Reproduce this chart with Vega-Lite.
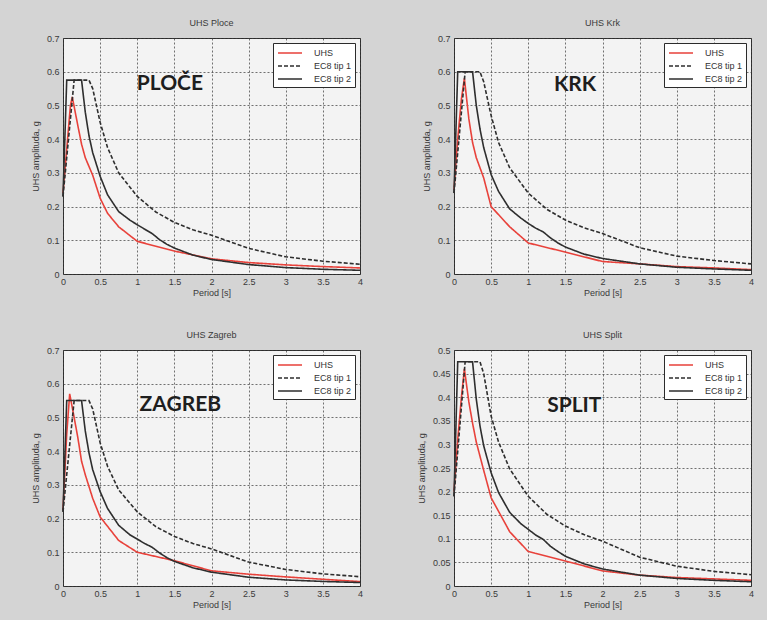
{
  "$schema": "https://vega.github.io/schema/vega-lite/v6.json",
  "background": "#d4d4d4",
  "padding": {"left": 30, "top": 18, "right": 14, "bottom": 18},
  "bounds": "flush",
  "spacing": {"row": 76, "column": 94},
  "columns": 2,
  "datasets": {
    "curves": [
      {"station":"Ploce","series":"UHS","T":0,"g":0.24},{"station":"Ploce","series":"UHS","T":0.05,"g":0.37},{"station":"Ploce","series":"UHS","T":0.1,"g":0.5},{"station":"Ploce","series":"UHS","T":0.125,"g":0.525},{"station":"Ploce","series":"UHS","T":0.2,"g":0.44},{"station":"Ploce","series":"UHS","T":0.25,"g":0.385},{"station":"Ploce","series":"UHS","T":0.3,"g":0.345},{"station":"Ploce","series":"UHS","T":0.4,"g":0.293},{"station":"Ploce","series":"UHS","T":0.5,"g":0.225},{"station":"Ploce","series":"UHS","T":0.6,"g":0.18},{"station":"Ploce","series":"UHS","T":0.75,"g":0.14},{"station":"Ploce","series":"UHS","T":1,"g":0.097},{"station":"Ploce","series":"UHS","T":1.5,"g":0.068},{"station":"Ploce","series":"UHS","T":2,"g":0.045},{"station":"Ploce","series":"UHS","T":2.5,"g":0.034},{"station":"Ploce","series":"UHS","T":3,"g":0.027},{"station":"Ploce","series":"UHS","T":3.5,"g":0.022},{"station":"Ploce","series":"UHS","T":4,"g":0.018},
      {"station":"Ploce","series":"EC8 tip 1","T":0,"g":0.23},{"station":"Ploce","series":"EC8 tip 1","T":0.15,"g":0.575},{"station":"Ploce","series":"EC8 tip 1","T":0.35,"g":0.575},{"station":"Ploce","series":"EC8 tip 1","T":0.4,"g":0.55},{"station":"Ploce","series":"EC8 tip 1","T":0.45,"g":0.5},{"station":"Ploce","series":"EC8 tip 1","T":0.5,"g":0.45},{"station":"Ploce","series":"EC8 tip 1","T":0.6,"g":0.375},{"station":"Ploce","series":"EC8 tip 1","T":0.75,"g":0.3},{"station":"Ploce","series":"EC8 tip 1","T":1,"g":0.23},{"station":"Ploce","series":"EC8 tip 1","T":1.25,"g":0.184},{"station":"Ploce","series":"EC8 tip 1","T":1.5,"g":0.153},{"station":"Ploce","series":"EC8 tip 1","T":1.75,"g":0.131},{"station":"Ploce","series":"EC8 tip 1","T":2,"g":0.115},{"station":"Ploce","series":"EC8 tip 1","T":2.5,"g":0.076},{"station":"Ploce","series":"EC8 tip 1","T":3,"g":0.051},{"station":"Ploce","series":"EC8 tip 1","T":3.5,"g":0.038},{"station":"Ploce","series":"EC8 tip 1","T":4,"g":0.029},
      {"station":"Ploce","series":"EC8 tip 2","T":0,"g":0.23},{"station":"Ploce","series":"EC8 tip 2","T":0.05,"g":0.575},{"station":"Ploce","series":"EC8 tip 2","T":0.25,"g":0.575},{"station":"Ploce","series":"EC8 tip 2","T":0.3,"g":0.48},{"station":"Ploce","series":"EC8 tip 2","T":0.35,"g":0.41},{"station":"Ploce","series":"EC8 tip 2","T":0.4,"g":0.36},{"station":"Ploce","series":"EC8 tip 2","T":0.5,"g":0.29},{"station":"Ploce","series":"EC8 tip 2","T":0.6,"g":0.235},{"station":"Ploce","series":"EC8 tip 2","T":0.75,"g":0.185},{"station":"Ploce","series":"EC8 tip 2","T":0.9,"g":0.16},{"station":"Ploce","series":"EC8 tip 2","T":1,"g":0.146},{"station":"Ploce","series":"EC8 tip 2","T":1.1,"g":0.133},{"station":"Ploce","series":"EC8 tip 2","T":1.2,"g":0.12},{"station":"Ploce","series":"EC8 tip 2","T":1.3,"g":0.102},{"station":"Ploce","series":"EC8 tip 2","T":1.4,"g":0.088},{"station":"Ploce","series":"EC8 tip 2","T":1.5,"g":0.077},{"station":"Ploce","series":"EC8 tip 2","T":1.75,"g":0.056},{"station":"Ploce","series":"EC8 tip 2","T":2,"g":0.043},{"station":"Ploce","series":"EC8 tip 2","T":2.5,"g":0.028},{"station":"Ploce","series":"EC8 tip 2","T":3,"g":0.019},{"station":"Ploce","series":"EC8 tip 2","T":3.5,"g":0.014},{"station":"Ploce","series":"EC8 tip 2","T":4,"g":0.011},

      {"station":"Krk","series":"UHS","T":0,"g":0.25},{"station":"Krk","series":"UHS","T":0.05,"g":0.4},{"station":"Krk","series":"UHS","T":0.1,"g":0.52},{"station":"Krk","series":"UHS","T":0.14,"g":0.58},{"station":"Krk","series":"UHS","T":0.2,"g":0.46},{"station":"Krk","series":"UHS","T":0.25,"g":0.39},{"station":"Krk","series":"UHS","T":0.3,"g":0.345},{"station":"Krk","series":"UHS","T":0.4,"g":0.285},{"station":"Krk","series":"UHS","T":0.5,"g":0.2},{"station":"Krk","series":"UHS","T":0.75,"g":0.14},{"station":"Krk","series":"UHS","T":1,"g":0.092},{"station":"Krk","series":"UHS","T":1.5,"g":0.065},{"station":"Krk","series":"UHS","T":2,"g":0.037},{"station":"Krk","series":"UHS","T":2.5,"g":0.03},{"station":"Krk","series":"UHS","T":3,"g":0.022},{"station":"Krk","series":"UHS","T":3.5,"g":0.018},{"station":"Krk","series":"UHS","T":4,"g":0.013},
      {"station":"Krk","series":"EC8 tip 1","T":0,"g":0.24},{"station":"Krk","series":"EC8 tip 1","T":0.15,"g":0.6},{"station":"Krk","series":"EC8 tip 1","T":0.35,"g":0.6},{"station":"Krk","series":"EC8 tip 1","T":0.4,"g":0.57},{"station":"Krk","series":"EC8 tip 1","T":0.45,"g":0.52},{"station":"Krk","series":"EC8 tip 1","T":0.5,"g":0.47},{"station":"Krk","series":"EC8 tip 1","T":0.6,"g":0.39},{"station":"Krk","series":"EC8 tip 1","T":0.75,"g":0.315},{"station":"Krk","series":"EC8 tip 1","T":1,"g":0.24},{"station":"Krk","series":"EC8 tip 1","T":1.25,"g":0.192},{"station":"Krk","series":"EC8 tip 1","T":1.5,"g":0.16},{"station":"Krk","series":"EC8 tip 1","T":1.75,"g":0.137},{"station":"Krk","series":"EC8 tip 1","T":2,"g":0.12},{"station":"Krk","series":"EC8 tip 1","T":2.5,"g":0.078},{"station":"Krk","series":"EC8 tip 1","T":3,"g":0.053},{"station":"Krk","series":"EC8 tip 1","T":3.5,"g":0.04},{"station":"Krk","series":"EC8 tip 1","T":4,"g":0.03},
      {"station":"Krk","series":"EC8 tip 2","T":0,"g":0.24},{"station":"Krk","series":"EC8 tip 2","T":0.05,"g":0.6},{"station":"Krk","series":"EC8 tip 2","T":0.25,"g":0.6},{"station":"Krk","series":"EC8 tip 2","T":0.3,"g":0.5},{"station":"Krk","series":"EC8 tip 2","T":0.35,"g":0.43},{"station":"Krk","series":"EC8 tip 2","T":0.4,"g":0.375},{"station":"Krk","series":"EC8 tip 2","T":0.5,"g":0.295},{"station":"Krk","series":"EC8 tip 2","T":0.6,"g":0.245},{"station":"Krk","series":"EC8 tip 2","T":0.75,"g":0.193},{"station":"Krk","series":"EC8 tip 2","T":0.9,"g":0.166},{"station":"Krk","series":"EC8 tip 2","T":1,"g":0.15},{"station":"Krk","series":"EC8 tip 2","T":1.1,"g":0.136},{"station":"Krk","series":"EC8 tip 2","T":1.2,"g":0.125},{"station":"Krk","series":"EC8 tip 2","T":1.3,"g":0.107},{"station":"Krk","series":"EC8 tip 2","T":1.4,"g":0.092},{"station":"Krk","series":"EC8 tip 2","T":1.5,"g":0.08},{"station":"Krk","series":"EC8 tip 2","T":1.75,"g":0.059},{"station":"Krk","series":"EC8 tip 2","T":2,"g":0.046},{"station":"Krk","series":"EC8 tip 2","T":2.5,"g":0.03},{"station":"Krk","series":"EC8 tip 2","T":3,"g":0.02},{"station":"Krk","series":"EC8 tip 2","T":3.5,"g":0.015},{"station":"Krk","series":"EC8 tip 2","T":4,"g":0.011},

      {"station":"Zagreb","series":"UHS","T":0,"g":0.225},{"station":"Zagreb","series":"UHS","T":0.05,"g":0.45},{"station":"Zagreb","series":"UHS","T":0.09,"g":0.57},{"station":"Zagreb","series":"UHS","T":0.15,"g":0.5},{"station":"Zagreb","series":"UHS","T":0.2,"g":0.44},{"station":"Zagreb","series":"UHS","T":0.25,"g":0.37},{"station":"Zagreb","series":"UHS","T":0.3,"g":0.33},{"station":"Zagreb","series":"UHS","T":0.4,"g":0.26},{"station":"Zagreb","series":"UHS","T":0.5,"g":0.205},{"station":"Zagreb","series":"UHS","T":0.75,"g":0.135},{"station":"Zagreb","series":"UHS","T":1,"g":0.1},{"station":"Zagreb","series":"UHS","T":1.5,"g":0.075},{"station":"Zagreb","series":"UHS","T":2,"g":0.045},{"station":"Zagreb","series":"UHS","T":2.5,"g":0.035},{"station":"Zagreb","series":"UHS","T":3,"g":0.027},{"station":"Zagreb","series":"UHS","T":3.5,"g":0.02},{"station":"Zagreb","series":"UHS","T":4,"g":0.013},
      {"station":"Zagreb","series":"EC8 tip 1","T":0,"g":0.22},{"station":"Zagreb","series":"EC8 tip 1","T":0.15,"g":0.55},{"station":"Zagreb","series":"EC8 tip 1","T":0.35,"g":0.55},{"station":"Zagreb","series":"EC8 tip 1","T":0.4,"g":0.525},{"station":"Zagreb","series":"EC8 tip 1","T":0.45,"g":0.475},{"station":"Zagreb","series":"EC8 tip 1","T":0.5,"g":0.425},{"station":"Zagreb","series":"EC8 tip 1","T":0.6,"g":0.355},{"station":"Zagreb","series":"EC8 tip 1","T":0.75,"g":0.285},{"station":"Zagreb","series":"EC8 tip 1","T":1,"g":0.22},{"station":"Zagreb","series":"EC8 tip 1","T":1.25,"g":0.176},{"station":"Zagreb","series":"EC8 tip 1","T":1.5,"g":0.147},{"station":"Zagreb","series":"EC8 tip 1","T":1.75,"g":0.126},{"station":"Zagreb","series":"EC8 tip 1","T":2,"g":0.11},{"station":"Zagreb","series":"EC8 tip 1","T":2.5,"g":0.071},{"station":"Zagreb","series":"EC8 tip 1","T":3,"g":0.049},{"station":"Zagreb","series":"EC8 tip 1","T":3.5,"g":0.036},{"station":"Zagreb","series":"EC8 tip 1","T":4,"g":0.0275},
      {"station":"Zagreb","series":"EC8 tip 2","T":0,"g":0.22},{"station":"Zagreb","series":"EC8 tip 2","T":0.05,"g":0.55},{"station":"Zagreb","series":"EC8 tip 2","T":0.25,"g":0.55},{"station":"Zagreb","series":"EC8 tip 2","T":0.3,"g":0.46},{"station":"Zagreb","series":"EC8 tip 2","T":0.35,"g":0.395},{"station":"Zagreb","series":"EC8 tip 2","T":0.4,"g":0.345},{"station":"Zagreb","series":"EC8 tip 2","T":0.5,"g":0.28},{"station":"Zagreb","series":"EC8 tip 2","T":0.6,"g":0.23},{"station":"Zagreb","series":"EC8 tip 2","T":0.75,"g":0.18},{"station":"Zagreb","series":"EC8 tip 2","T":0.9,"g":0.152},{"station":"Zagreb","series":"EC8 tip 2","T":1,"g":0.139},{"station":"Zagreb","series":"EC8 tip 2","T":1.1,"g":0.126},{"station":"Zagreb","series":"EC8 tip 2","T":1.2,"g":0.115},{"station":"Zagreb","series":"EC8 tip 2","T":1.3,"g":0.098},{"station":"Zagreb","series":"EC8 tip 2","T":1.4,"g":0.084},{"station":"Zagreb","series":"EC8 tip 2","T":1.5,"g":0.073},{"station":"Zagreb","series":"EC8 tip 2","T":1.75,"g":0.054},{"station":"Zagreb","series":"EC8 tip 2","T":2,"g":0.041},{"station":"Zagreb","series":"EC8 tip 2","T":2.5,"g":0.026},{"station":"Zagreb","series":"EC8 tip 2","T":3,"g":0.018},{"station":"Zagreb","series":"EC8 tip 2","T":3.5,"g":0.0135},{"station":"Zagreb","series":"EC8 tip 2","T":4,"g":0.0103},

      {"station":"Split","series":"UHS","T":0,"g":0.2},{"station":"Split","series":"UHS","T":0.05,"g":0.31},{"station":"Split","series":"UHS","T":0.1,"g":0.4},{"station":"Split","series":"UHS","T":0.14,"g":0.46},{"station":"Split","series":"UHS","T":0.2,"g":0.39},{"station":"Split","series":"UHS","T":0.25,"g":0.345},{"station":"Split","series":"UHS","T":0.3,"g":0.305},{"station":"Split","series":"UHS","T":0.4,"g":0.245},{"station":"Split","series":"UHS","T":0.5,"g":0.187},{"station":"Split","series":"UHS","T":0.75,"g":0.115},{"station":"Split","series":"UHS","T":1,"g":0.073},{"station":"Split","series":"UHS","T":1.5,"g":0.053},{"station":"Split","series":"UHS","T":2,"g":0.032},{"station":"Split","series":"UHS","T":2.5,"g":0.023},{"station":"Split","series":"UHS","T":3,"g":0.018},{"station":"Split","series":"UHS","T":3.5,"g":0.015},{"station":"Split","series":"UHS","T":4,"g":0.012},
      {"station":"Split","series":"EC8 tip 1","T":0,"g":0.19},{"station":"Split","series":"EC8 tip 1","T":0.15,"g":0.475},{"station":"Split","series":"EC8 tip 1","T":0.35,"g":0.475},{"station":"Split","series":"EC8 tip 1","T":0.4,"g":0.45},{"station":"Split","series":"EC8 tip 1","T":0.45,"g":0.405},{"station":"Split","series":"EC8 tip 1","T":0.5,"g":0.36},{"station":"Split","series":"EC8 tip 1","T":0.6,"g":0.305},{"station":"Split","series":"EC8 tip 1","T":0.75,"g":0.248},{"station":"Split","series":"EC8 tip 1","T":1,"g":0.19},{"station":"Split","series":"EC8 tip 1","T":1.25,"g":0.152},{"station":"Split","series":"EC8 tip 1","T":1.5,"g":0.127},{"station":"Split","series":"EC8 tip 1","T":1.75,"g":0.109},{"station":"Split","series":"EC8 tip 1","T":2,"g":0.095},{"station":"Split","series":"EC8 tip 1","T":2.5,"g":0.061},{"station":"Split","series":"EC8 tip 1","T":3,"g":0.042},{"station":"Split","series":"EC8 tip 1","T":3.5,"g":0.031},{"station":"Split","series":"EC8 tip 1","T":4,"g":0.024},
      {"station":"Split","series":"EC8 tip 2","T":0,"g":0.19},{"station":"Split","series":"EC8 tip 2","T":0.05,"g":0.475},{"station":"Split","series":"EC8 tip 2","T":0.25,"g":0.475},{"station":"Split","series":"EC8 tip 2","T":0.3,"g":0.396},{"station":"Split","series":"EC8 tip 2","T":0.35,"g":0.339},{"station":"Split","series":"EC8 tip 2","T":0.4,"g":0.297},{"station":"Split","series":"EC8 tip 2","T":0.5,"g":0.24},{"station":"Split","series":"EC8 tip 2","T":0.6,"g":0.198},{"station":"Split","series":"EC8 tip 2","T":0.75,"g":0.156},{"station":"Split","series":"EC8 tip 2","T":0.9,"g":0.132},{"station":"Split","series":"EC8 tip 2","T":1,"g":0.12},{"station":"Split","series":"EC8 tip 2","T":1.1,"g":0.108},{"station":"Split","series":"EC8 tip 2","T":1.2,"g":0.099},{"station":"Split","series":"EC8 tip 2","T":1.3,"g":0.084},{"station":"Split","series":"EC8 tip 2","T":1.4,"g":0.073},{"station":"Split","series":"EC8 tip 2","T":1.5,"g":0.063},{"station":"Split","series":"EC8 tip 2","T":1.75,"g":0.047},{"station":"Split","series":"EC8 tip 2","T":2,"g":0.036},{"station":"Split","series":"EC8 tip 2","T":2.5,"g":0.023},{"station":"Split","series":"EC8 tip 2","T":3,"g":0.016},{"station":"Split","series":"EC8 tip 2","T":3.5,"g":0.012},{"station":"Split","series":"EC8 tip 2","T":4,"g":0.009}
    ],
    "labels": [
      {"station":"Ploce","label":"PLOČE","T":1.44,"g":0.565},
      {"station":"Krk","label":"KRK","T":1.63,"g":0.56},
      {"station":"Zagreb","label":"ZAGREB","T":1.58,"g":0.537},
      {"station":"Split","label":"SPLIT","T":1.62,"g":0.381}
    ]
  },
  "resolve": {
    "scale": {"color": "independent", "strokeDash": "independent", "x": "independent", "y": "independent"},
    "legend": {"color": "independent", "strokeDash": "independent"}
  },
  "concat": [
    {
      "title": "UHS Ploce",
      "width": 297, "height": 236,
      "encoding": {
        "x": {"field": "T", "type": "quantitative", "scale": {"domain": [0, 4], "nice": false}, "axis": {"values": [0,0.5,1,1.5,2,2.5,3,3.5,4], "format": "~g", "title": "Period [s]"}},
        "y": {"field": "g", "type": "quantitative", "scale": {"domain": [0, 0.7], "nice": false}, "axis": {"values": [0,0.1,0.2,0.3,0.4,0.5,0.6,0.7], "format": "~g", "title": "UHS amplituda, g"}}
      },
      "layer": [
        {
          "data": {"name": "curves"},
          "transform": [{"filter": "datum.station === 'Ploce'"}],
          "mark": {"type": "line", "strokeWidth": 1.6},
          "encoding": {
            "color": {"field": "series", "type": "nominal", "scale": {"domain": ["UHS","EC8 tip 1","EC8 tip 2"], "range": ["#e8423b","#2e2e2e","#2e2e2e"]}, "legend": {"title": null}},
            "strokeDash": {"field": "series", "type": "nominal", "scale": {"domain": ["UHS","EC8 tip 1","EC8 tip 2"], "range": [[1,0],[4,2],[1,0]]}, "legend": {"title": null}}
          }
        },
        {
          "data": {"name": "labels"},
          "transform": [{"filter": "datum.station === 'Ploce'"}],
          "mark": {"type": "text", "font": "Lato", "fontWeight": "bold", "fontSize": 21, "color": "#1e1e1e"},
          "encoding": {"text": {"field": "label"}}
        }
      ]
    },
    {
      "title": "UHS Krk",
      "width": 297, "height": 236,
      "encoding": {
        "x": {"field": "T", "type": "quantitative", "scale": {"domain": [0, 4], "nice": false}, "axis": {"values": [0,0.5,1,1.5,2,2.5,3,3.5,4], "format": "~g", "title": "Period [s]"}},
        "y": {"field": "g", "type": "quantitative", "scale": {"domain": [0, 0.7], "nice": false}, "axis": {"values": [0,0.1,0.2,0.3,0.4,0.5,0.6,0.7], "format": "~g", "title": "UHS amplituda, g"}}
      },
      "layer": [
        {
          "data": {"name": "curves"},
          "transform": [{"filter": "datum.station === 'Krk'"}],
          "mark": {"type": "line", "strokeWidth": 1.6},
          "encoding": {
            "color": {"field": "series", "type": "nominal", "scale": {"domain": ["UHS","EC8 tip 1","EC8 tip 2"], "range": ["#e8423b","#2e2e2e","#2e2e2e"]}, "legend": {"title": null}},
            "strokeDash": {"field": "series", "type": "nominal", "scale": {"domain": ["UHS","EC8 tip 1","EC8 tip 2"], "range": [[1,0],[4,2],[1,0]]}, "legend": {"title": null}}
          }
        },
        {
          "data": {"name": "labels"},
          "transform": [{"filter": "datum.station === 'Krk'"}],
          "mark": {"type": "text", "font": "Lato", "fontWeight": "bold", "fontSize": 21, "color": "#1e1e1e"},
          "encoding": {"text": {"field": "label"}}
        }
      ]
    },
    {
      "title": "UHS Zagreb",
      "width": 297, "height": 236,
      "encoding": {
        "x": {"field": "T", "type": "quantitative", "scale": {"domain": [0, 4], "nice": false}, "axis": {"values": [0,0.5,1,1.5,2,2.5,3,3.5,4], "format": "~g", "title": "Period [s]"}},
        "y": {"field": "g", "type": "quantitative", "scale": {"domain": [0, 0.7], "nice": false}, "axis": {"values": [0,0.1,0.2,0.3,0.4,0.5,0.6,0.7], "format": "~g", "title": "UHS amplituda, g"}}
      },
      "layer": [
        {
          "data": {"name": "curves"},
          "transform": [{"filter": "datum.station === 'Zagreb'"}],
          "mark": {"type": "line", "strokeWidth": 1.6},
          "encoding": {
            "color": {"field": "series", "type": "nominal", "scale": {"domain": ["UHS","EC8 tip 1","EC8 tip 2"], "range": ["#e8423b","#2e2e2e","#2e2e2e"]}, "legend": {"title": null}},
            "strokeDash": {"field": "series", "type": "nominal", "scale": {"domain": ["UHS","EC8 tip 1","EC8 tip 2"], "range": [[1,0],[4,2],[1,0]]}, "legend": {"title": null}}
          }
        },
        {
          "data": {"name": "labels"},
          "transform": [{"filter": "datum.station === 'Zagreb'"}],
          "mark": {"type": "text", "font": "Lato", "fontWeight": "bold", "fontSize": 21, "color": "#1e1e1e"},
          "encoding": {"text": {"field": "label"}}
        }
      ]
    },
    {
      "title": "UHS Split",
      "width": 297, "height": 236,
      "encoding": {
        "x": {"field": "T", "type": "quantitative", "scale": {"domain": [0, 4], "nice": false}, "axis": {"values": [0,0.5,1,1.5,2,2.5,3,3.5,4], "format": "~g", "title": "Period [s]"}},
        "y": {"field": "g", "type": "quantitative", "scale": {"domain": [0, 0.5], "nice": false}, "axis": {"values": [0,0.05,0.1,0.15,0.2,0.25,0.3,0.35,0.4,0.45,0.5], "format": "~g", "title": "UHS amplituda, g"}}
      },
      "layer": [
        {
          "data": {"name": "curves"},
          "transform": [{"filter": "datum.station === 'Split'"}],
          "mark": {"type": "line", "strokeWidth": 1.6},
          "encoding": {
            "color": {"field": "series", "type": "nominal", "scale": {"domain": ["UHS","EC8 tip 1","EC8 tip 2"], "range": ["#e8423b","#2e2e2e","#2e2e2e"]}, "legend": {"title": null}},
            "strokeDash": {"field": "series", "type": "nominal", "scale": {"domain": ["UHS","EC8 tip 1","EC8 tip 2"], "range": [[1,0],[4,2],[1,0]]}, "legend": {"title": null}}
          }
        },
        {
          "data": {"name": "labels"},
          "transform": [{"filter": "datum.station === 'Split'"}],
          "mark": {"type": "text", "font": "Lato", "fontWeight": "bold", "fontSize": 21, "color": "#1e1e1e"},
          "encoding": {"text": {"field": "label"}}
        }
      ]
    }
  ],
  "config": {
    "font": "Liberation Sans",
    "view": {"fill": "#f3f3f3", "stroke": "#2b2b2b", "strokeWidth": 1},
    "title": {"fontSize": 9, "fontWeight": "normal", "color": "#3a3a3a", "offset": 6, "font": "Liberation Sans"},
    "axis": {
      "labelFontSize": 9, "labelColor": "#3a3a3a", "labelFont": "Liberation Sans",
      "titleFontSize": 9, "titleFontWeight": "normal", "titleColor": "#3a3a3a", "titleFont": "Liberation Sans",
      "labelFlush": false, "labelOverlap": false, "labelPadding": 4,
      "ticks": false, "domain": false,
      "grid": true, "gridColor": "#3c3c3c", "gridDash": [2, 2], "gridWidth": 0.9, "gridOpacity": 0.8
    },
    "axisX": {"titlePadding": 2, "labelPadding": 3},
    "axisY": {"titlePadding": 6},
    "legend": {
      "orient": "top-right", "offset": 5, "fillColor": "#ffffff", "strokeColor": "#2b2b2b",
      "padding": 3, "labelFontSize": 9, "labelColor": "#333333", "labelFont": "Liberation Sans",
      "symbolType": "M-2,0H2", "symbolSize": 144, "symbolOffset": 7, "symbolStrokeWidth": 1.6,
      "rowPadding": 1, "labelOffset": 17
    }
  }
}
